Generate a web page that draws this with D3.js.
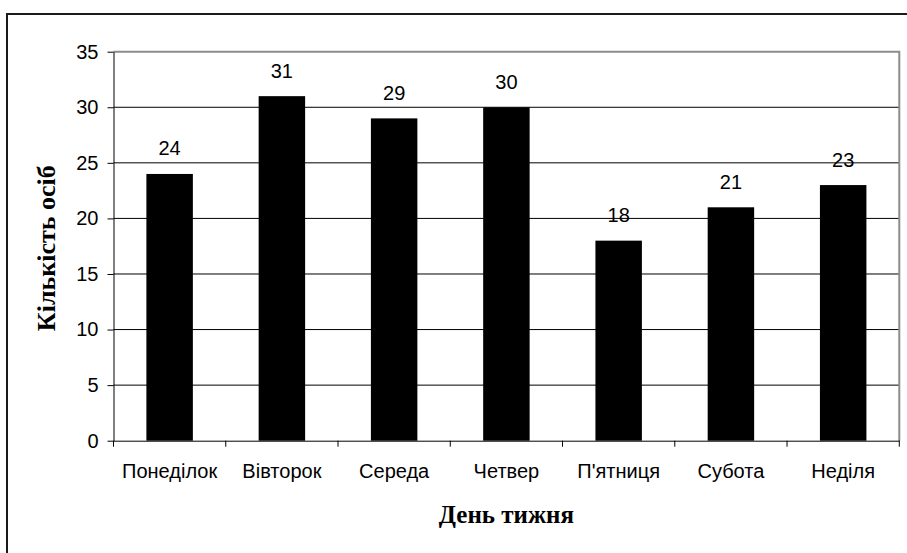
<!DOCTYPE html>
<html>
<head>
<meta charset="utf-8">
<script src="https://cdn.jsdelivr.net/npm/d3@7"></script>
<style>
  html, body { margin: 0; padding: 0; background: #fff; }
  svg { display: block; }
</style>
</head>
<body>
<svg id="viz"></svg>
<script>
/* Data */

const days = ["Понеділок", "Вівторок", "Середа", "Четвер", "П'ятниця", "Субота", "Неділя"];
const counts = [24, 31, 29, 30, 18, 21, 23];
const yTicks = [0, 5, 10, 15, 20, 25, 30, 35];
const xTitle = "День тижня";
const yTitle = "Кількість осіб";

/* Environment */

const width = 907;
const height = 553;
const plot = {left: 113.5, right: 899.3, top: 51.7, bottom: 440.7};

const svg = d3.select("#viz")
    .attr("width", width)
    .attr("height", height);

/* Outer frame (runs off the right and bottom edge) */

svg.append("path")
    .attr("d", `M7,${height + 5}V14H${width + 5}`)
    .attr("fill", "none")
    .attr("stroke", "#1a1a1a")
    .attr("stroke-width", 2);

/* Scales */

const x = d3.scaleBand()
    .domain(days)
    .range([plot.left, plot.right])
    .padding(0);

const y = d3.scaleLinear()
    .domain([0, 35])
    .range([plot.bottom, plot.top]);

const barW = x.step() * 0.414;

/* Grid */

svg.append("g")
    .selectAll("line")
    .data(yTicks.filter(d => d > 0 && d < 35))
    .enter().append("line")
    .attr("x1", plot.left)
    .attr("x2", plot.right)
    .attr("y1", d => y(d))
    .attr("y2", d => y(d))
    .attr("stroke", "#000")
    .attr("stroke-width", 1);

/* Plot border, top and right */

svg.append("path")
    .attr("d", `M${plot.left},${y(35)}H${plot.right}V${plot.bottom}`)
    .attr("fill", "none")
    .attr("stroke", "#8c8c8c")
    .attr("stroke-width", 2);

/* Bars */

svg.append("g")
    .selectAll("rect")
    .data(counts)
    .enter().append("rect")
    .attr("x", (d, i) => x(days[i]) + x.bandwidth() / 2 - barW / 2)
    .attr("y", d => y(d))
    .attr("width", barW)
    .attr("height", d => y(0) - y(d))
    .attr("fill", "#000");

/* Value labels */

svg.append("g")
    .attr("font-family", "'Liberation Sans', Arial, sans-serif")
    .attr("font-size", 20)
    .attr("text-anchor", "middle")
    .selectAll("text")
    .data(counts)
    .enter().append("text")
    .attr("x", (d, i) => x(days[i]) + x.bandwidth() / 2)
    .attr("y", d => y(d) - 18.5)
    .attr("fill", "#000")
    .text(d => d);

/* Axes */

const yAxis = svg.append("g")
    .attr("transform", `translate(${plot.left},0)`)
    .call(d3.axisLeft(y).tickValues(yTicks).tickSize(6).tickPadding(9).tickSizeOuter(0));

yAxis.selectAll("text")
    .attr("font-family", "'Liberation Sans', Arial, sans-serif")
    .attr("font-size", 20)
    .attr("fill", "#000");

const xAxis = svg.append("g")
    .attr("transform", `translate(0,${plot.bottom})`)
    .call(d3.axisBottom(x).tickSize(0).tickPadding(23));

xAxis.selectAll("text")
    .attr("font-family", "'Liberation Sans', Arial, sans-serif")
    .attr("font-size", 20)
    .attr("fill", "#000");

// ticks sit on the category boundaries, not the centres
xAxis.selectAll(".boundary")
    .data(d3.range(days.length + 1))
    .enter().append("line")
    .attr("class", "boundary")
    .attr("x1", i => plot.left + i * x.step())
    .attr("x2", i => plot.left + i * x.step())
    .attr("y1", 0)
    .attr("y2", 6)
    .attr("stroke", "#000");

svg.selectAll(".domain").attr("stroke", "#000");

/* Titles */

svg.append("text")
    .attr("x", (plot.left + plot.right) / 2)
    .attr("y", 523)
    .attr("text-anchor", "middle")
    .attr("font-family", "'Liberation Serif', 'Times New Roman', serif")
    .attr("font-weight", "bold")
    .attr("font-size", 25)
    .text(xTitle);

svg.append("text")
    .attr("transform", `translate(55,${(plot.top + plot.bottom) / 2 + 2}) rotate(-90)`)
    .attr("text-anchor", "middle")
    .attr("font-family", "'Liberation Serif', 'Times New Roman', serif")
    .attr("font-weight", "bold")
    .attr("font-size", 26)
    .text(yTitle);
</script>
</body>
</html>
